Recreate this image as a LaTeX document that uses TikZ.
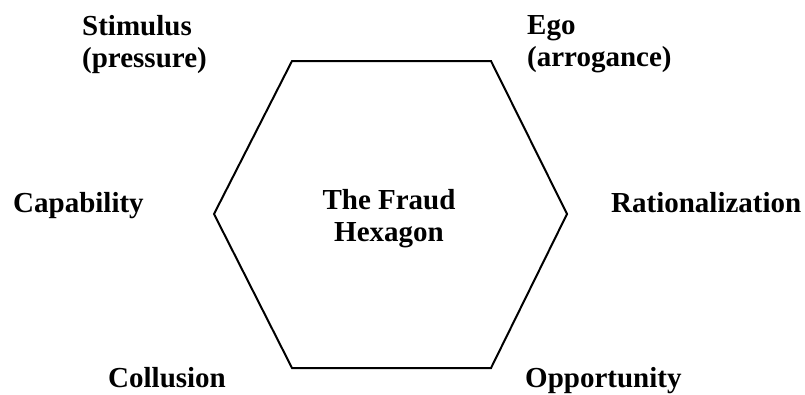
\documentclass[tikz,border=0pt]{standalone}
\usepackage{fontspec}
\setmainfont{Liberation Serif}
\begin{document}
\begin{tikzpicture}[x=1pt,y=-1pt,
  lbl/.style={inner sep=0pt, font=\fontsize{29}{32}\selectfont\bfseries, align=left},
  hexline/.style={line width=2pt, line join=miter}]
\useasboundingbox (0,0) rectangle (805,394);
\coordinate (tl) at (292,61);
\coordinate (tr) at (491,61);
\coordinate (r) at (567,214);
\coordinate (br) at (491,368);
\coordinate (bl) at (292,368);
\coordinate (l) at (214,214);
\draw[hexline] (tl) -- (tr) -- (r) -- (br) -- (bl) -- (l) -- cycle;
\node[lbl, anchor=north west] (stim) at (82,15) {Stimulus\\(pressure)};
\node[lbl, anchor=north west] (ego) at (527,15) {Ego\\(arrogance)};
\node[lbl, anchor=base west] (cap) at (13,212) {Capability};
\node[lbl, anchor=base west] (rat) at (611,212) {Rationalization};
\node[lbl, anchor=base west] (col) at (108,387) {Collusion};
\node[lbl, anchor=base west] (opp) at (525,387) {Opportunity};
\node[lbl, align=center, anchor=north] (ctr) at (389,189) {The Fraud\\Hexagon};
\end{tikzpicture}
\end{document}
